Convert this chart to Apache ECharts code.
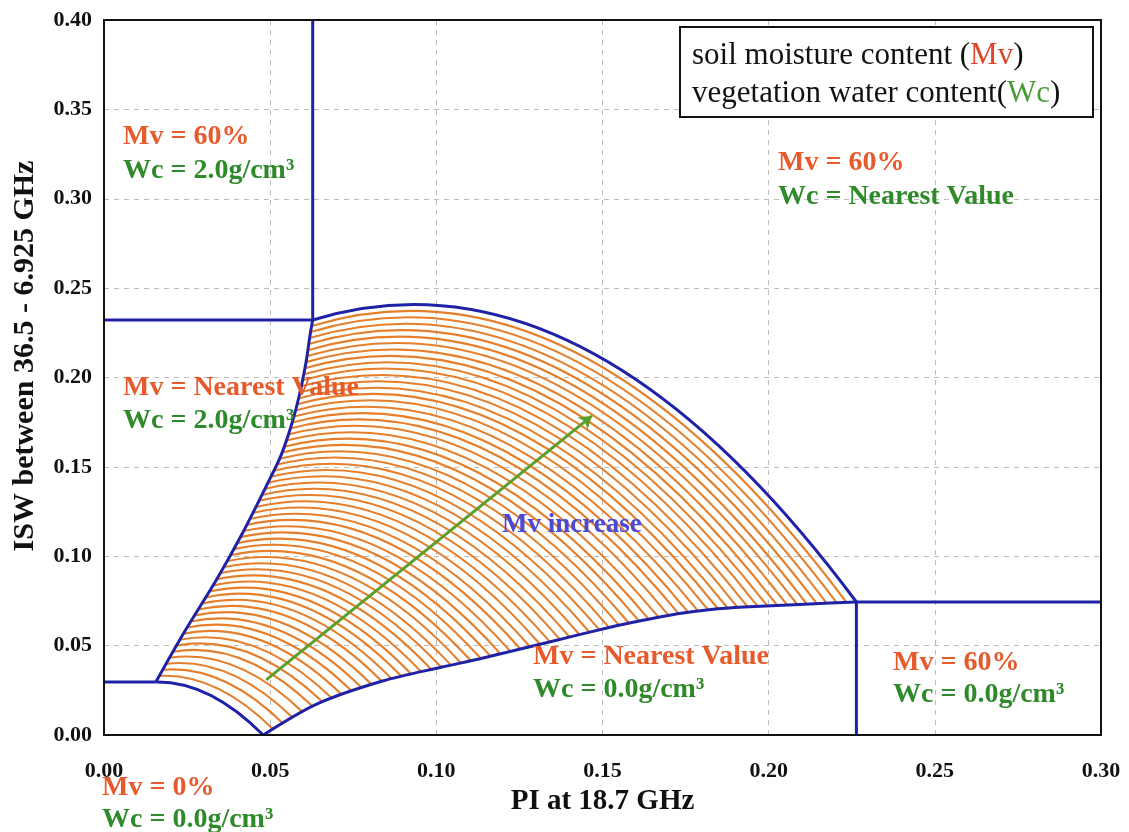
<!DOCTYPE html>
<html>
<head>
<meta charset="utf-8">
<script src="https://cdn.jsdelivr.net/npm/echarts@6/dist/echarts.min.js"></script>
<style>html,body{margin:0;padding:0;background:#fff}#chart{width:1129px;height:832px}</style>
</head>
<body>
<div id="chart"></div>
<script>
// ---------- tick labels ----------
const xTickLabels = ['0.00', '0.05', '0.10', '0.15', '0.20', '0.25', '0.30'];
const yTickLabels = ['0.00', '0.05', '0.10', '0.15', '0.20', '0.25', '0.30', '0.35', '0.40'];

// ---------- iso-Mv curves (Mv = 0 .. 60 %), each a quadratic arc ----------
// start point on the Wc = 0.0 edge
const mvStart = [
  [0.0479,0.0000],[0.0509,0.0032],[0.0539,0.0064],[0.0568,0.0096],[0.0598,0.0128],[0.0628,0.0160],
  [0.0658,0.0184],[0.0687,0.0204],[0.0717,0.0223],[0.0747,0.0243],[0.0777,0.0262],[0.0806,0.0281],
  [0.0836,0.0301],[0.0866,0.0314],[0.0896,0.0327],[0.0925,0.0340],[0.0955,0.0353],[0.0985,0.0366],
  [0.1015,0.0379],[0.1044,0.0391],[0.1074,0.0403],[0.1104,0.0415],[0.1134,0.0428],[0.1163,0.0441],
  [0.1193,0.0454],[0.1223,0.0468],[0.1253,0.0481],[0.1282,0.0494],[0.1312,0.0508],[0.1342,0.0521],
  [0.1372,0.0535],[0.1401,0.0548],[0.1431,0.0561],[0.1461,0.0575],[0.1491,0.0588],[0.1520,0.0601],
  [0.1550,0.0613],[0.1580,0.0625],[0.1610,0.0637],[0.1639,0.0648],[0.1669,0.0658],[0.1699,0.0669],
  [0.1729,0.0679],[0.1758,0.0686],[0.1788,0.0693],[0.1818,0.0700],[0.1848,0.0705],[0.1877,0.0709],
  [0.1907,0.0713],[0.1937,0.0717],[0.1967,0.0720],[0.1996,0.0722],[0.2026,0.0725],[0.2056,0.0727],
  [0.2086,0.0730],[0.2115,0.0732],[0.2145,0.0735],[0.2175,0.0737],[0.2205,0.0739],[0.2234,0.0742],
  [0.2264,0.0744]
];
// bend (control) point of each arc
const mvBend = [
  [0.0318,0.0302],[0.0338,0.0348],[0.0358,0.0394],[0.0378,0.0440],[0.0398,0.0487],[0.0418,0.0533],
  [0.0438,0.0576],[0.0458,0.0616],[0.0478,0.0657],[0.0498,0.0697],[0.0519,0.0736],[0.0539,0.0776],
  [0.0560,0.0816],[0.0580,0.0853],[0.0601,0.0890],[0.0621,0.0927],[0.0642,0.0963],[0.0662,0.1000],
  [0.0682,0.1038],[0.0702,0.1076],[0.0722,0.1114],[0.0742,0.1152],[0.0762,0.1190],[0.0781,0.1229],
  [0.0802,0.1267],[0.0821,0.1306],[0.0841,0.1346],[0.0860,0.1386],[0.0880,0.1426],[0.0899,0.1466],
  [0.0919,0.1506],[0.0938,0.1546],[0.0958,0.1586],[0.0977,0.1626],[0.0996,0.1667],[0.1015,0.1708],
  [0.1035,0.1748],[0.1054,0.1788],[0.1073,0.1829],[0.1091,0.1872],[0.1109,0.1915],[0.1127,0.1958],
  [0.1144,0.2001],[0.1162,0.2043],[0.1179,0.2087],[0.1197,0.2130],[0.1214,0.2173],[0.1231,0.2215],
  [0.1248,0.2258],[0.1265,0.2301],[0.1282,0.2345],[0.1298,0.2388],[0.1315,0.2431],[0.1332,0.2475],
  [0.1348,0.2520],[0.1364,0.2565],[0.1381,0.2610],[0.1397,0.2655],[0.1413,0.2699],[0.1430,0.2744],
  [0.1446,0.2788]
];
// end point on the Wc = 2.0 edge
const mvEnd = [
  [0.0156,0.0297],[0.0166,0.0331],[0.0177,0.0365],[0.0187,0.0398],[0.0197,0.0432],[0.0208,0.0466],
  [0.0218,0.0500],[0.0228,0.0533],[0.0239,0.0567],[0.0250,0.0601],[0.0261,0.0635],[0.0272,0.0668],
  [0.0283,0.0702],[0.0295,0.0736],[0.0306,0.0770],[0.0317,0.0803],[0.0328,0.0837],[0.0339,0.0871],
  [0.0349,0.0905],[0.0359,0.0938],[0.0370,0.0972],[0.0380,0.1006],[0.0390,0.1040],[0.0400,0.1073],
  [0.0410,0.1107],[0.0420,0.1141],[0.0429,0.1175],[0.0438,0.1208],[0.0447,0.1242],[0.0457,0.1276],
  [0.0466,0.1310],[0.0475,0.1343],[0.0484,0.1377],[0.0493,0.1411],[0.0502,0.1445],[0.0511,0.1478],
  [0.0519,0.1512],[0.0528,0.1546],[0.0536,0.1580],[0.0542,0.1613],[0.0548,0.1647],[0.0554,0.1681],
  [0.0560,0.1715],[0.0566,0.1748],[0.0571,0.1782],[0.0576,0.1816],[0.0581,0.1850],[0.0585,0.1883],
  [0.0590,0.1917],[0.0593,0.1951],[0.0597,0.1985],[0.0601,0.2018],[0.0604,0.2052],[0.0608,0.2086],
  [0.0611,0.2120],[0.0613,0.2153],[0.0616,0.2187],[0.0619,0.2221],[0.0622,0.2255],[0.0625,0.2288],
  [0.0628,0.2322]
];

// ---------- blue edges ----------
const wc0Edge = [[0.0479,0],[0.0640,0.0173],[0.0838,0.0302],[0.1017,0.0380],[0.1128,0.0425],[0.1328,0.0515],
  [0.1526,0.0604],[0.1626,0.0643],[0.1726,0.0678],[0.1826,0.0702],[0.1926,0.0716],[0.2124,0.0733],[0.2264,0.0744]];
const wc2Edge = [[0.0156,0.0297],[0.0240,0.0571],[0.0338,0.0867],[0.0417,0.1130],[0.0493,0.1410],[0.0533,0.1566],
  [0.0564,0.1734],[0.0588,0.1902],[0.0608,0.2087],[0.0620,0.2238],[0.0628,0.2322]];
const guideTopLeft = [[0,0.2322],[0.0628,0.2322],[0.0628,0.40]];
const guideBottomLeft = [[0,0.0297],[0.0156,0.0297]];
const guideRight = [[0.2264,0],[0.2264,0.0744],[0.30,0.0744]];
const arrowPath = [[0.0488,0.0308],[0.1468,0.1785]];

// ---------- styling ----------
const BLUE = '#1f22a6', ORANGE = '#e57f2c', RED = '#e65a2c', GREEN = '#2f8a2a', ARROW = '#5c9e2c';
const SERIF = '"Liberation Serif", "Times New Roman", serif';

const curveRows = mvStart.map((s, i) => [s[0], s[1], mvBend[i][0], mvBend[i][1], mvEnd[i][0], mvEnd[i][1]]);
const innerRows = curveRows.filter((r, i) => i > 0 && i < curveRows.length - 1);
const outerRows = [curveRows[0], curveRows[curveRows.length - 1]];

function arcRenderer(color, width) {
  return function (params, api) {
    const a = api.coord([api.value(0), api.value(1)]);
    const c = api.coord([api.value(2), api.value(3)]);
    const b = api.coord([api.value(4), api.value(5)]);
    return {
      type: 'bezierCurve',
      shape: { x1: a[0], y1: a[1], cpx1: c[0], cpy1: c[1], x2: b[0], y2: b[1] },
      style: { stroke: color, lineWidth: width, fill: 'none' }
    };
  };
}
function edge(data, smooth) {
  return { type: 'line', data: data, symbol: 'none', showSymbol: false, silent: true, z: 3,
    smooth: smooth || false, lineStyle: { color: BLUE, width: 3 }, animation: false };
}

const notes = [
  { x: 123, y: 137, t: 'Mv = 60%', c: RED },
  { x: 123, y: 171, t: 'Wc = 2.0g/cm³', c: GREEN },
  { x: 778, y: 163, t: 'Mv = 60%', c: RED },
  { x: 778, y: 197, t: 'Wc = Nearest Value', c: GREEN },
  { x: 123, y: 388, t: 'Mv = Nearest Value', c: RED },
  { x: 123, y: 421, t: 'Wc = 2.0g/cm³', c: GREEN },
  { x: 533, y: 657, t: 'Mv = Nearest Value', c: RED },
  { x: 533, y: 690, t: 'Wc = 0.0g/cm³', c: GREEN },
  { x: 893, y: 663, t: 'Mv = 60%', c: RED },
  { x: 893, y: 695, t: 'Wc = 0.0g/cm³', c: GREEN },
  { x: 102, y: 788, t: 'Mv = 0%', c: RED },
  { x: 102, y: 820, t: 'Wc = 0.0g/cm³', c: GREEN }
];

const graphics = notes.map(n => ({
  type: 'text', x: n.x, y: n.y, z: 100,
  style: { text: n.t, fill: n.c, fontFamily: SERIF, fontWeight: 'bold', fontSize: 28, align: 'left', verticalAlign: 'middle' }
}));
graphics.push({
  type: 'text', x: 502, y: 525, z: 100,
  style: { text: 'Mv increase', fill: '#4a4ad6', fontFamily: SERIF, fontWeight: 'bold', fontSize: 27, align: 'left', verticalAlign: 'middle' }
});
graphics.push({
  type: 'text', x: 25, y: 356, rotation: Math.PI / 2, z: 100,
  style: { text: 'ISW between 36.5 - 6.925 GHz', fill: '#111', fontFamily: SERIF, fontWeight: 'bold', fontSize: 30, align: 'center', verticalAlign: 'middle' }
});
// plot frame drawn above the dashed grid
graphics.push({
  type: 'rect', z: 60, silent: true, shape: { x: 104, y: 20, width: 997, height: 715 },
  style: { fill: 'none', stroke: '#111', lineWidth: 2 }
});
graphics.push({
  type: 'rect', z: 100, shape: { x: 680, y: 27, width: 413, height: 90 },
  style: { fill: '#fff', stroke: '#111', lineWidth: 2 }
});
graphics.push({
  type: 'text', x: 692, y: 56, z: 101,
  style: {
    text: '{k|soil moisture content (}{r|Mv}{k|)}', verticalAlign: 'middle', align: 'left',
    rich: { k: { fill: '#111', fontFamily: SERIF, fontSize: 31 }, r: { fill: '#e0452a', fontFamily: SERIF, fontSize: 31 } }
  }
});
graphics.push({
  type: 'text', x: 692, y: 94, z: 101,
  style: {
    text: '{k|vegetation water content(}{g|Wc}{k|)}', verticalAlign: 'middle', align: 'left',
    rich: { k: { fill: '#111', fontFamily: SERIF, fontSize: 31 }, g: { fill: '#4a9a3a', fontFamily: SERIF, fontSize: 31 } }
  }
});

const chart = echarts.init(document.getElementById('chart'), null, { renderer: 'canvas' });
chart.setOption({
  animation: false,
  backgroundColor: '#fff',
  grid: { left: 104, right: 28, top: 20, bottom: 97, show: true, borderColor: '#111', borderWidth: 0, backgroundColor: '#fff' },
  xAxis: {
    type: 'value', min: 0, max: 0.30, interval: 0.05,
    name: 'PI at 18.7 GHz', nameLocation: 'middle', nameGap: 52,
    nameTextStyle: { fontFamily: SERIF, fontWeight: 'bold', fontSize: 29, color: '#111' },
    axisLine: { show: true, lineStyle: { color: '#111', width: 2 } },
    axisTick: { show: false },
    axisLabel: { margin: 25, fontFamily: SERIF, fontWeight: 'bold', fontSize: 22, color: '#111',
      formatter: v => xTickLabels[Math.round(v / 0.05)] },
    splitLine: { show: true, lineStyle: { type: [5, 5], color: '#bdbdbd', width: 1 } }
  },
  yAxis: {
    type: 'value', min: 0, max: 0.40, interval: 0.05,
    axisLine: { show: true, lineStyle: { color: '#111', width: 2 } },
    axisTick: { show: false },
    axisLabel: { margin: 12, fontFamily: SERIF, fontWeight: 'bold', fontSize: 22, color: '#111',
      formatter: v => yTickLabels[Math.round(v / 0.05)] },
    splitLine: { show: true, lineStyle: { type: [5, 5], color: '#bdbdbd', width: 1 } }
  },
  series: [
    { type: 'custom', name: 'iso-Mv', data: innerRows, renderItem: arcRenderer(ORANGE, 2.1),
      encode: { x: [0, 2, 4], y: [1, 3, 5] }, silent: true, z: 2, animation: false },
    { type: 'custom', name: 'Mv limits', data: outerRows, renderItem: arcRenderer(BLUE, 3),
      encode: { x: [0, 2, 4], y: [1, 3, 5] }, silent: true, z: 3, animation: false },
    edge(wc0Edge, 0.3), edge(wc2Edge, 0.3), edge(guideTopLeft), edge(guideBottomLeft), edge(guideRight),
    { type: 'lines', coordinateSystem: 'cartesian2d', silent: true, z: 4, animation: false,
      symbol: ['none', 'arrow'], symbolSize: 12,
      lineStyle: { color: ARROW, width: 3, opacity: 1 },
      data: [{ coords: arrowPath }] }
  ],
  graphic: graphics
});
</script>
</body>
</html>
